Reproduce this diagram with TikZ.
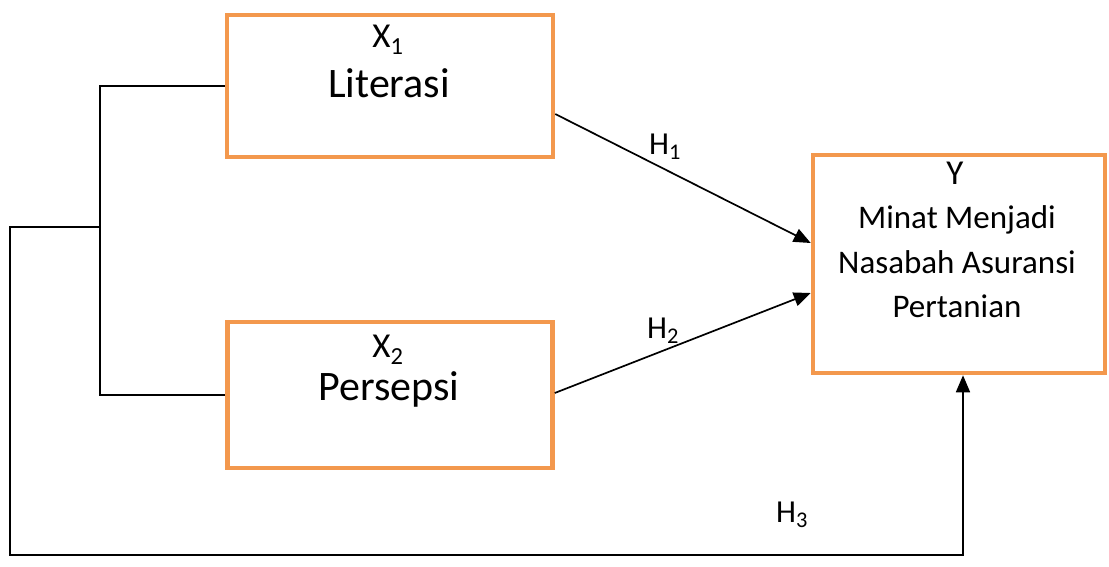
\documentclass[tikz,border=0pt]{standalone}
\usepackage{fontspec}
\setmainfont{Carlito}
\usetikzlibrary{arrows.meta}
\definecolor{boxorange}{RGB}{243,152,77}
\tikzset{
  varbox/.style={draw=boxorange, line width=4.5pt, inner sep=0pt, fill=white},
  link/.style={draw=black, line width=1.7pt},
  path arrow/.style={link, -{Triangle[length=17pt,width=14pt]}},
  hlabel/.style={anchor=base, font=\fontsize{32}{34}\selectfont},
  varname/.style={anchor=base, font=\fontsize{35}{38}\selectfont},
  vartext/.style={anchor=base, font=\fontsize{42}{46}\selectfont},
  ytext/.style={anchor=base, font=\fontsize{33}{36}\selectfont}
}
\begin{document}
\begin{tikzpicture}[x=1pt, y=-1pt]
\useasboundingbox (0,0) rectangle (1109,566);

% variable boxes
\node[varbox, minimum width=326pt, minimum height=142pt] (x1) at (390,86) {};
\node[varbox, minimum width=325pt, minimum height=146pt] (x2) at (390,395) {};
\node[varbox, minimum width=292pt, minimum height=218pt] (y) at (959,264) {};

% box texts
\node[varname] (x1name) at (388,47) {X\textsubscript{1}};
\node[vartext] (x1text) at (389,97) {Literasi};
\node[varname] (x2name) at (388,357) {X\textsubscript{2}};
\node[vartext] (x2text) at (389,400) {Persepsi};
\node[varname] (yname) at (955,184) {Y};
\node[ytext] (ytext1) at (957,228) {Minat Menjadi};
\node[ytext] (ytext2) at (957,273) {Nasabah Asuransi};
\node[ytext] (ytext3) at (957,317) {Pertanian};

% hypothesis labels
\node[hlabel] (h1) at (665,154) {H\textsubscript{1}};
\node[hlabel] (h2) at (663,338) {H\textsubscript{2}};
\node[hlabel] (h3) at (792,522) {H\textsubscript{3}};

% joint path of X1 and X2
\coordinate (j) at (100,227);
\coordinate (c1) at (10,227);
\coordinate (c2) at (10,555);
\draw[link] (x1.west) -| (j) |- (x2.west);
\draw[path arrow] (j) -- (c1) -- (c2) -| ([xshift=4pt]y.south);

% direct paths
\draw[path arrow] ([yshift=-28pt]x1.east) -- ([yshift=21pt]y.west);
\draw[path arrow] ([yshift=2pt]x2.east) -- ([yshift=-29pt]y.west);
\end{tikzpicture}
\end{document}
